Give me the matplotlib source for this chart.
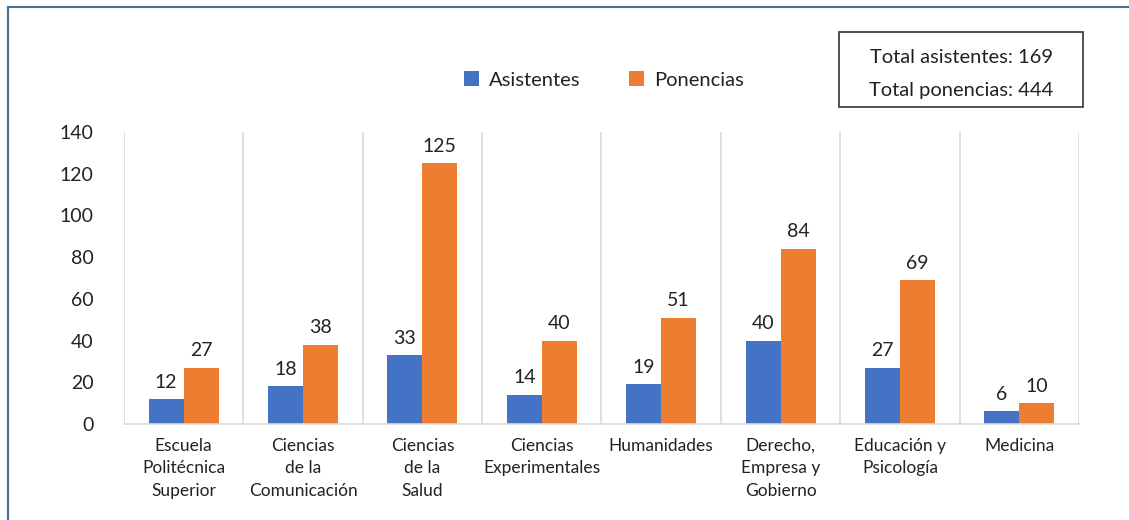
import matplotlib
matplotlib.use('Agg')
import matplotlib.pyplot as plt
from matplotlib.lines import Line2D
from matplotlib.patches import Rectangle
import numpy as np

# Datos por facultad
categorias = ['Escuela\nPolitécnica\nSuperior', 'Ciencias\nde la\nComunicación',
              'Ciencias\nde la\nSalud', 'Ciencias\nExperimentales', 'Humanidades',
              'Derecho,\nEmpresa y\nGobierno', 'Educación y\nPsicología', 'Medicina']
asistentes = [12, 18, 33, 14, 19, 40, 27, 6]
ponencias = [27, 38, 125, 40, 51, 84, 69, 10]
total_asistentes = 169
total_ponencias = 444

plt.rcParams['font.family'] = ['Lato', 'DejaVu Sans']
txt = '#222222'
azul = '#4472C4'
naranja = '#ED7D31'

fig = plt.figure(figsize=(11.29, 5.20), dpi=100)
ax = fig.add_axes([0.1098, 0.1846, 0.8459, 0.5616])

x = np.arange(len(categorias))
w = 0.293
b1 = ax.bar(x - w / 2, asistentes, w, color=azul, label='Asistentes')
b2 = ax.bar(x + w / 2, ponencias, w, color=naranja, label='Ponencias')

for rect, v in zip(b1, asistentes):
    ax.annotate(str(v), (rect.get_x() + rect.get_width() / 2, v), xytext=(0, 6),
                textcoords='offset points', ha='center', va='bottom', fontsize=14, color=txt)
for rect, v in zip(b2, ponencias):
    ax.annotate(str(v), (rect.get_x() + rect.get_width() / 2, v), xytext=(0, 6),
                textcoords='offset points', ha='center', va='bottom', fontsize=14, color=txt)

ax.set_xlim(-0.5, len(categorias) - 0.5)
ax.set_ylim(0, 140)
ax.set_yticks(np.arange(0, 141, 20))
ax.set_xticks(x)
ax.set_xticklabels(categorias, fontsize=12.5, color=txt, linespacing=1.5, va='top')
ax.tick_params(axis='both', length=0, colors=txt)
ax.tick_params(axis='y', labelsize=14, pad=22)
ax.tick_params(axis='x', pad=10)

# Separadores verticales entre categorias
for s in np.arange(-0.5, len(categorias), 1.0):
    ax.axvline(s, color='#d9d9d9', lw=1.2, zorder=0)

for sp in ['top', 'right', 'left']:
    ax.spines[sp].set_visible(False)
ax.spines['bottom'].set_color('#d9d9d9')
ax.spines['bottom'].set_linewidth(1.2)

fig.legend(handles=[b1, b2], loc='center', bbox_to_anchor=(0.535, 0.846), ncol=2,
           frameon=False, fontsize=14.5, handlelength=0.75, handleheight=0.75,
           columnspacing=2.4, handletextpad=0.5, labelcolor=txt)

# Recuadro con totales
fig.add_artist(Rectangle((839 / 1129, 1 - 107 / 520), 244 / 1129, 75 / 520,
                         transform=fig.transFigure, fc='white', ec='#333333', lw=1.2))
fig.text(0.8512, 0.8885, 'Total asistentes: %d' % total_asistentes,
         ha='center', va='center', fontsize=14.5, color=txt)
fig.text(0.8512, 0.8269, 'Total ponencias: %d' % total_ponencias,
         ha='center', va='center', fontsize=14.5, color=txt)

# Borde de la figura (izquierda y arriba)
fig.add_artist(Line2D([8 / 1129, 8 / 1129], [0, 1 - 7 / 520], color='#4a6f8f', lw=1.5))
fig.add_artist(Line2D([8 / 1129, 1], [1 - 7 / 520, 1 - 7 / 520], color='#4a6f8f', lw=1.5))

fig.savefig('out.png', dpi=100, facecolor='white')
